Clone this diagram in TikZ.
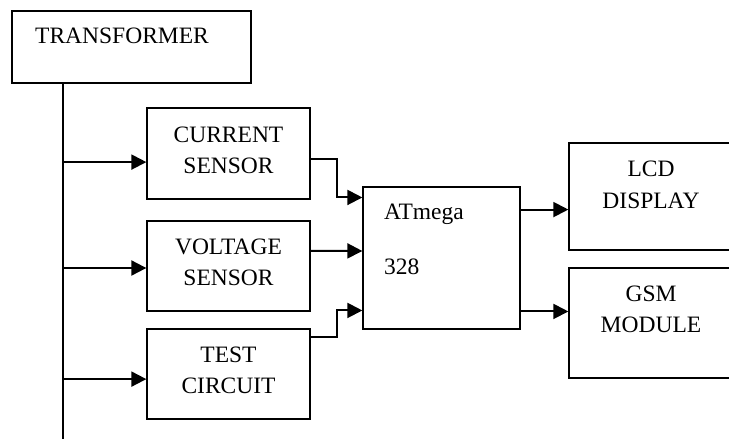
\documentclass[tikz,border=0pt]{standalone}
\usepackage{fontspec}
\setmainfont{Liberation Serif}
\usetikzlibrary{arrows.meta,calc}
\begin{document}
\begin{tikzpicture}[x=1pt,y=-1pt,
  blockbox/.style={draw=black,line width=1.3pt,inner sep=0pt,minimum width=#1},
  lbl/.style={inner sep=0pt,font=\fontsize{23.5}{31}\selectfont},
  wire/.style={line width=1.5pt},
  arr/.style={line width=2pt,-{Triangle[length=15pt,width=15pt]}}]
\useasboundingbox (0,0) rectangle (729,439);
% boxes
\node[blockbox=239pt,minimum height=72pt] (tr) at (131.5,47) {};
\node[blockbox=163pt,minimum height=91pt] (cs) at (228.5,153.5) {};
\node[blockbox=163pt,minimum height=90pt] (vs) at (228.5,266) {};
\node[blockbox=163pt,minimum height=90pt] (tc) at (228.5,374) {};
\node[blockbox=157pt,minimum height=142pt] (at) at (441.5,258) {};
\node[blockbox=164pt,minimum height=107pt] (lcd) at (651,196.5) {};
\node[blockbox=164pt,minimum height=110pt] (gsm) at (651,323) {};
% labels
\node[lbl,anchor=base west] (trt) at (35,43) {TRANSFORMER};
\node[lbl,anchor=base] (cst1) at (228.5,142) {CURRENT};
\node[lbl,anchor=base] (cst2) at (228.5,173) {SENSOR};
\node[lbl,anchor=base] (vst1) at (228.5,254) {VOLTAGE};
\node[lbl,anchor=base] (vst2) at (228.5,285) {SENSOR};
\node[lbl,anchor=base] (tct1) at (228.5,362) {TEST};
\node[lbl,anchor=base] (tct2) at (228.5,393) {CIRCUIT};
\node[lbl,anchor=base west] (att1) at (384,219) {ATmega};
\node[lbl,anchor=base west] (att2) at (384,274) {328};
\node[lbl,anchor=base] (lcdt1) at (651,176) {LCD};
\node[lbl,anchor=base] (lcdt2) at (651,208) {DISPLAY};
\node[lbl,anchor=base] (gsmt1) at (651,301) {GSM};
\node[lbl,anchor=base] (gsmt2) at (651,332) {MODULE};
% bus
\coordinate (busend) at (63,441);
\draw[wire] (tr.south -| busend) -- (busend);
% bus to sensors
\coordinate (csin) at ($(cs.north west)!0.593!(cs.south west)$);
\coordinate (vsin) at ($(vs.north west)!0.522!(vs.south west)$);
\coordinate (tcin) at ($(tc.north west)!0.556!(tc.south west)$);
\draw[arr] (csin -| busend) -- (csin);
\draw[arr] (vsin -| busend) -- (vsin);
\draw[arr] (tcin -| busend) -- (tcin);
% sensors to ATmega
\coordinate (csout) at ($(cs.north east)!0.56!(cs.south east)$);
\coordinate (vsout) at ($(vs.north east)!0.333!(vs.south east)$);
\coordinate (tcout) at ($(tc.north east)!0.1!(tc.south east)$);
\coordinate (atin1) at ($(at.north west)!0.0775!(at.south west)$);
\coordinate (atin2) at ($(at.north west)!0.451!(at.south west)$);
\coordinate (atin3) at ($(at.north west)!0.866!(at.south west)$);
\draw[arr] (csout) -- ++(26,0) |- (atin1);
\draw[arr] (vsout) -- (atin2);
\draw[arr] (tcout) -- ++(26,0) |- (atin3);
% ATmega to outputs
\coordinate (atout1) at ($(at.north east)!0.162!(at.south east)$);
\coordinate (atout2) at ($(at.north east)!0.873!(at.south east)$);
\draw[arr] (atout1) -- (atout1 -| lcd.west);
\draw[arr] (atout2) -- (atout2 -| gsm.west);
\end{tikzpicture}
\end{document}
